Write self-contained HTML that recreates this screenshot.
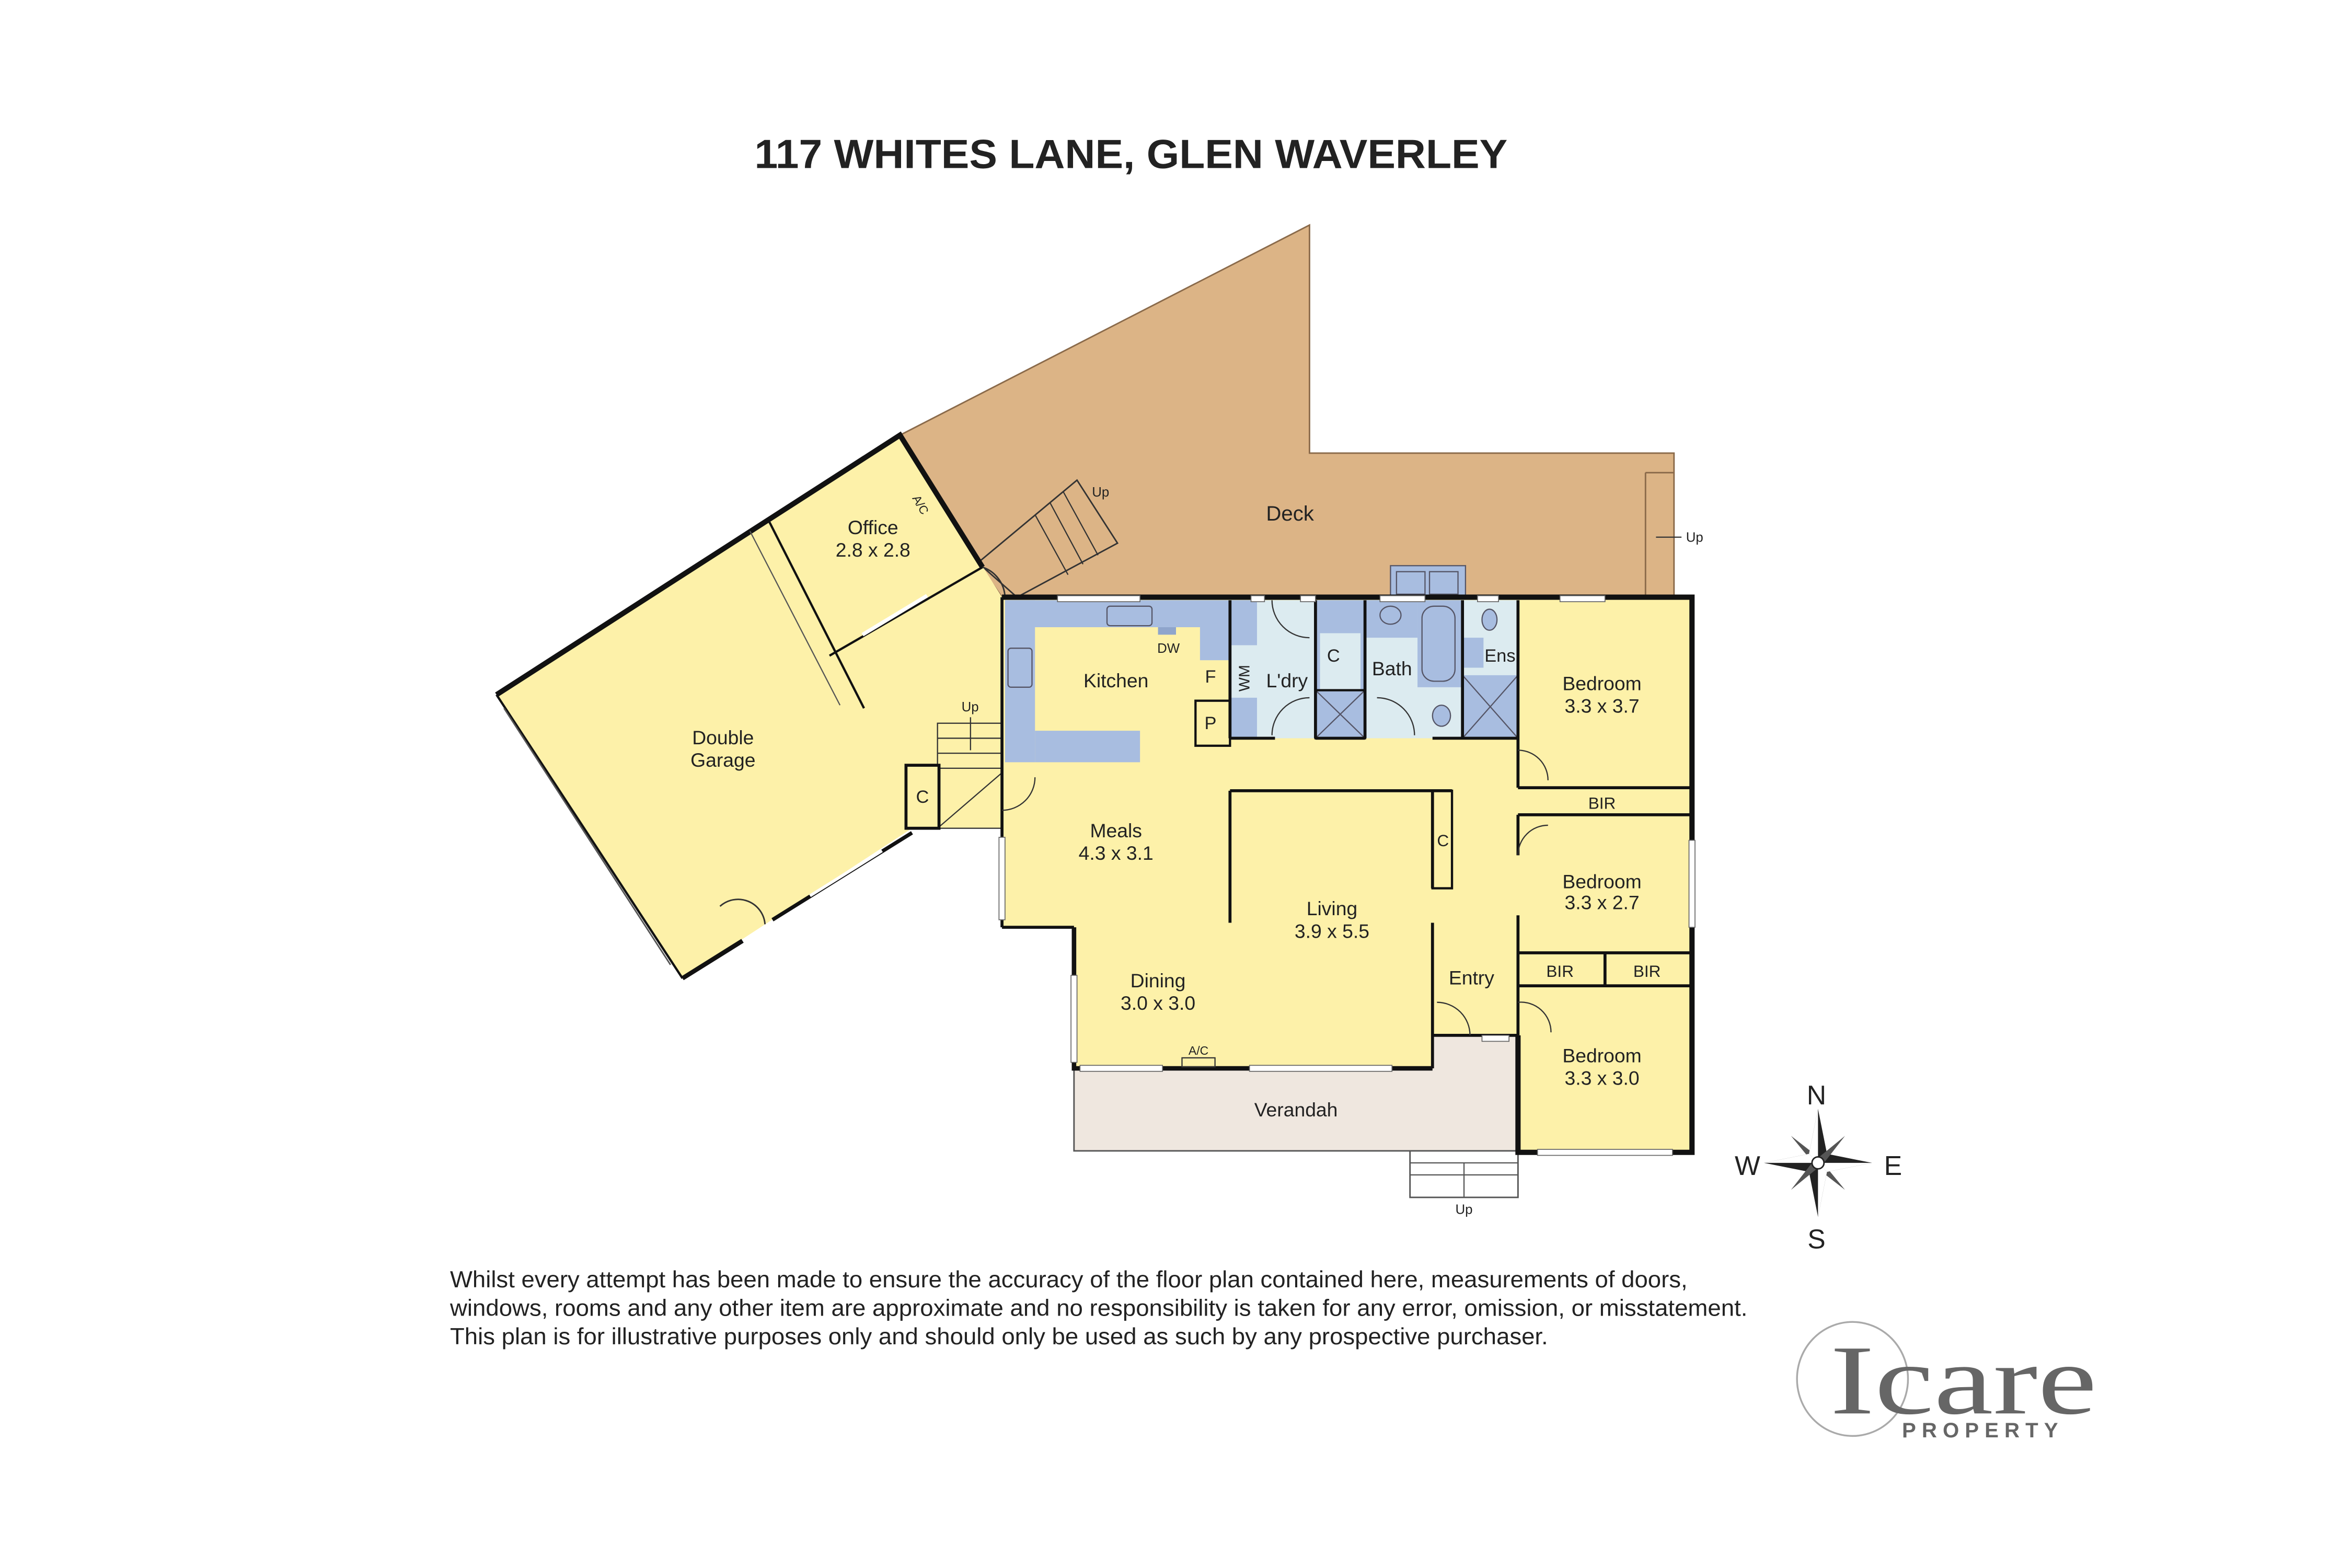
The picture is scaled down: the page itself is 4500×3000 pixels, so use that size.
<!DOCTYPE html>
<html><head><meta charset="utf-8"><style>
html,body{margin:0;padding:0;background:#fff;width:4500px;height:3000px;overflow:hidden}
svg{display:block}
text{font-family:"Liberation Sans",sans-serif;fill:#222}
</style></head><body>
<svg width="4500" height="3000" viewBox="0 0 1568 1045" preserveAspectRatio="none" xmlns="http://www.w3.org/2000/svg">
<rect width="1568" height="1045" fill="#fff"/>
<text x="754" y="112" font-size="27" font-weight="bold" text-anchor="middle" fill="#1a1a1a" textLength="502" lengthAdjust="spacingAndGlyphs">117 WHITES LANE, GLEN WAVERLEY</text>

<!-- Deck -->
<polygon points="600,290 873,150 873,302 1116,302 1116,398 668,398 652,375" fill="#dcb486" stroke="#8a6a4a" stroke-width="1"/>
<line x1="1097" y1="315" x2="1116" y2="315" stroke="#8a6a4a"/>
<line x1="1097" y1="315" x2="1097" y2="398" stroke="#8a6a4a"/>
<text x="1124" y="361" font-size="9">Up</text>
<line x1="1104" y1="358" x2="1121" y2="358" stroke="#333" stroke-width="0.8"/>
<polygon points="652,375 718,320 745,362 678,398" fill="none" stroke="#333" stroke-width="1"/>
<line x1="690" y1="343" x2="712" y2="383" stroke="#333" stroke-width="0.8"/>
<line x1="700" y1="335" x2="722" y2="376" stroke="#333" stroke-width="0.8"/>
<line x1="709" y1="328" x2="732" y2="370" stroke="#333" stroke-width="0.8"/>
<text x="728" y="331" font-size="9">Up</text>
<rect x="927" y="377" width="50" height="22" fill="#a8bde0" stroke="#556" stroke-width="0.8"/>
<rect x="931" y="381" width="19" height="15" fill="#a8bde0" stroke="#556" stroke-width="0.8"/>
<rect x="953" y="381" width="19" height="15" fill="#a8bde0" stroke="#556" stroke-width="0.8"/>

<!-- Garage + office -->
<polygon points="331,463 600,290 668,398 668,552 608,552 455,652" fill="#fdf1a9"/>
<polyline points="331,463 600,290 655,378" fill="none" stroke="#111" stroke-width="3.5"/>
<line x1="331" y1="463" x2="455" y2="652" stroke="#111" stroke-width="1.5"/>
<line x1="336" y1="472" x2="447" y2="643" stroke="#555" stroke-width="1"/>
<polyline points="455,652 495,627" fill="none" stroke="#111" stroke-width="3"/>
<line x1="515" y1="613" x2="608" y2="555" stroke="#111" stroke-width="2.5"/>
<line x1="540" y1="597" x2="588" y2="567" stroke="#fff" stroke-width="2"/>
<path d="M480,604 A18,18 0 0 1 510,616" fill="none" stroke="#333"/>
<line x1="513" y1="348" x2="576" y2="472" stroke="#111" stroke-width="1.5"/>
<line x1="500" y1="354" x2="560" y2="470" stroke="#555" stroke-width="0.8"/>
<line x1="553" y1="437" x2="655" y2="378" stroke="#111" stroke-width="1.5"/>
<line x1="575" y1="423" x2="618" y2="397" stroke="#fff" stroke-width="2.5"/>
<text x="608" y="332" font-size="8" transform="rotate(60 608 332)">A/C</text>
<text x="582" y="356" font-size="13" text-anchor="middle">Office</text>
<text x="582" y="371" font-size="13" text-anchor="middle">2.8 x 2.8</text>
<text x="482" y="496" font-size="13" text-anchor="middle">Double</text>
<text x="482" y="511" font-size="13" text-anchor="middle">Garage</text>
<path d="M655,378 A22,22 0 0 1 670,398" fill="none" stroke="#333"/>
<rect x="625" y="482" width="43" height="70" fill="none" stroke="#333" stroke-width="0.8"/>
<line x1="625" y1="492" x2="668" y2="492" stroke="#333" stroke-width="0.8"/>
<line x1="625" y1="502" x2="668" y2="502" stroke="#333" stroke-width="0.8"/>
<line x1="625" y1="512" x2="668" y2="512" stroke="#333" stroke-width="0.8"/>
<line x1="647" y1="478" x2="647" y2="500" stroke="#333" stroke-width="0.8"/>
<text x="641" y="474" font-size="9">Up</text>
<line x1="625" y1="552" x2="668" y2="515" stroke="#333" stroke-width="0.8"/>
<rect x="604" y="510" width="22" height="42" fill="#fdf1a9" stroke="#111" stroke-width="2"/>
<text x="615" y="535" font-size="12" text-anchor="middle">C</text>

<!-- Verandah -->
<rect x="716" y="712" width="296" height="55" fill="#efe7df" stroke="#555" stroke-width="1"/>
<rect x="955" y="690" width="57" height="24" fill="#efe7df"/>
<rect x="940" y="767" width="72" height="31" fill="#fff" stroke="#555" stroke-width="1"/>
<line x1="940" y1="775" x2="1012" y2="775" stroke="#555" stroke-width="0.8"/>
<line x1="940" y1="783" x2="1012" y2="783" stroke="#555" stroke-width="0.8"/>
<line x1="976" y1="775" x2="976" y2="798" stroke="#555" stroke-width="0.8"/>
<text x="976" y="809" font-size="9" text-anchor="middle">Up</text>
<text x="864" y="744" font-size="13" text-anchor="middle">Verandah</text>

<!-- Main house -->
<polygon points="668,398 1128,398 1128,768 1012,768 1012,690 955,690 955,712 716,712 716,618 668,618" fill="#fdf1a9"/>
<rect x="670" y="400" width="150" height="18" fill="#a8bde0"/>
<rect x="670" y="400" width="20" height="108" fill="#a8bde0"/>
<rect x="690" y="487" width="70" height="21" fill="#a8bde0"/>
<rect x="800" y="418" width="20" height="22" fill="#a8bde0"/>
<rect x="738" y="404" width="30" height="13" rx="2" fill="none" stroke="#556" stroke-width="0.8"/>
<rect x="672" y="432" width="16" height="26" rx="2" fill="none" stroke="#556" stroke-width="0.8"/>
<rect x="772" y="418" width="12" height="5" fill="#8fa5cc"/>
<text x="779" y="435" font-size="9" text-anchor="middle">DW</text>
<rect x="797" y="467" width="23" height="30" fill="none" stroke="#111" stroke-width="1.5"/>
<text x="807" y="455" font-size="12" text-anchor="middle">F</text>
<text x="807" y="486" font-size="12" text-anchor="middle">P</text>
<text x="744" y="458" font-size="13" text-anchor="middle">Kitchen</text>
<rect x="820" y="400" width="57" height="92" fill="#dcebf0"/>
<rect x="820" y="400" width="18" height="30" fill="#a8bde0"/>
<rect x="820" y="465" width="18" height="27" fill="#a8bde0"/>
<text x="833" y="452" font-size="10" text-anchor="middle" transform="rotate(-90 833 452)">WM</text>
<text x="858" y="458" font-size="13" text-anchor="middle">L'dry</text>
<rect x="877" y="400" width="33" height="92" fill="#a8bde0"/>
<rect x="880" y="422" width="27" height="38" fill="#dcebf0"/>
<text x="889" y="441" font-size="12" text-anchor="middle">C</text>
<line x1="877" y1="460" x2="910" y2="492" stroke="#556" stroke-width="0.8"/>
<line x1="910" y1="460" x2="877" y2="492" stroke="#556" stroke-width="0.8"/>
<rect x="877" y="460" width="33" height="32" fill="none" stroke="#111" stroke-width="1.5"/>
<rect x="910" y="400" width="65" height="92" fill="#dcebf0"/>
<rect x="910" y="400" width="35" height="25" fill="#a8bde0"/>
<rect x="945" y="400" width="30" height="58" fill="#a8bde0"/>
<rect x="948" y="404" width="22" height="50" rx="8" fill="none" stroke="#556" stroke-width="0.8"/>
<ellipse cx="927" cy="410" rx="7" ry="6" fill="none" stroke="#556" stroke-width="0.8"/>
<ellipse cx="961" cy="477" rx="6" ry="7" fill="#a8bde0" stroke="#556" stroke-width="0.8"/>
<text x="928" y="450" font-size="13" text-anchor="middle">Bath</text>
<rect x="975" y="400" width="37" height="92" fill="#dcebf0"/>
<ellipse cx="993" cy="413" rx="5" ry="7" fill="#a8bde0" stroke="#556" stroke-width="0.8"/>
<rect x="975" y="425" width="14" height="20" fill="#a8bde0"/>
<rect x="975" y="450" width="37" height="42" fill="#a8bde0"/>
<line x1="975" y1="450" x2="1012" y2="492" stroke="#556" stroke-width="0.8"/>
<line x1="1012" y1="450" x2="975" y2="492" stroke="#556" stroke-width="0.8"/>
<text x="1000" y="441" font-size="12" text-anchor="middle">Ens</text>
<g stroke="#111" stroke-width="2" fill="none">
<line x1="820" y1="400" x2="820" y2="492"/>
<line x1="820" y1="492" x2="850" y2="492"/>
<line x1="877" y1="400" x2="877" y2="492"/>
<line x1="910" y1="400" x2="910" y2="492"/>
<line x1="877" y1="492" x2="910" y2="492"/>
<line x1="975" y1="400" x2="975" y2="492"/>
<line x1="955" y1="492" x2="1012" y2="492"/>
<line x1="1012" y1="400" x2="1012" y2="525"/>
<line x1="1012" y1="525" x2="1128" y2="525"/>
<line x1="1012" y1="543" x2="1128" y2="543"/>
<line x1="1012" y1="543" x2="1012" y2="570"/>
<line x1="1012" y1="610" x2="1012" y2="690"/>
<line x1="1012" y1="635" x2="1128" y2="635"/>
<line x1="1012" y1="657" x2="1128" y2="657"/>
<line x1="1070" y1="635" x2="1070" y2="657"/>
<line x1="820" y1="527" x2="968" y2="527"/>
<line x1="820" y1="527" x2="820" y2="615"/>
<line x1="955" y1="527" x2="955" y2="592"/>
<line x1="955" y1="615" x2="955" y2="712"/>
<line x1="955" y1="690" x2="1012" y2="690"/>
<line x1="668" y1="398" x2="668" y2="618"/>
<line x1="668" y1="618" x2="716" y2="618"/>
</g>
<rect x="955" y="527" width="13" height="65" fill="none" stroke="#111" stroke-width="1.5"/>
<text x="962" y="564" font-size="11" text-anchor="middle">C</text>
<polyline points="668,398 1128,398 1128,768 1012,768 1012,690" fill="none" stroke="#111" stroke-width="3.5"/>
<polyline points="955,712 716,712 716,618" fill="none" stroke="#111" stroke-width="3"/>
<g fill="#fff" stroke="#666" stroke-width="0.6">
<rect x="705" y="397" width="55" height="4"/>
<rect x="834" y="397" width="9" height="4"/>
<rect x="867" y="397" width="10" height="4"/>
<rect x="920" y="397" width="30" height="4"/>
<rect x="985" y="397" width="14" height="4"/>
<rect x="1040" y="397" width="30" height="4"/>
<rect x="1126" y="560" width="4" height="58"/>
<rect x="1025" y="766" width="90" height="4"/>
<rect x="720" y="710" width="55" height="4"/>
<rect x="833" y="710" width="95" height="4"/>
<rect x="714" y="650" width="4" height="58"/>
<rect x="666" y="558" width="4" height="55"/>
<rect x="988" y="690" width="18" height="4"/>
</g>
<rect x="788" y="705" width="22" height="6" fill="none" stroke="#333" stroke-width="0.8"/>
<text x="799" y="703" font-size="8" text-anchor="middle">A/C</text>
<path d="M1012,500 A20,20 0 0 1 1032,520" fill="none" stroke="#333" stroke-width="0.8"/>
<path d="M1012,570 A20,20 0 0 1 1032,550" fill="none" stroke="#333" stroke-width="0.8"/>
<path d="M1012,668 A20,20 0 0 1 1034,688" fill="none" stroke="#333" stroke-width="0.8"/>
<path d="M958,668 A22,22 0 0 1 980,690" fill="none" stroke="#333" stroke-width="0.8"/>
<path d="M668,540 A22,22 0 0 0 690,518" fill="none" stroke="#333" stroke-width="0.8"/>
<path d="M848,400 A25,25 0 0 0 873,425" fill="none" stroke="#333" stroke-width="0.8"/>
<path d="M848,490 A25,25 0 0 1 873,465" fill="none" stroke="#333" stroke-width="0.8"/>
<path d="M918,465 A25,25 0 0 1 943,490" fill="none" stroke="#333" stroke-width="0.8"/>

<text x="744" y="558" font-size="13" text-anchor="middle">Meals</text>
<text x="744" y="573" font-size="13" text-anchor="middle">4.3 x 3.1</text>
<text x="888" y="610" font-size="13" text-anchor="middle">Living</text>
<text x="888" y="625" font-size="13" text-anchor="middle">3.9 x 5.5</text>
<text x="772" y="658" font-size="13" text-anchor="middle">Dining</text>
<text x="772" y="673" font-size="13" text-anchor="middle">3.0 x 3.0</text>
<text x="981" y="656" font-size="13" text-anchor="middle">Entry</text>
<text x="1068" y="460" font-size="13" text-anchor="middle">Bedroom</text>
<text x="1068" y="475" font-size="13" text-anchor="middle">3.3 x 3.7</text>
<text x="1068" y="539" font-size="11" text-anchor="middle">BIR</text>
<text x="1068" y="592" font-size="13" text-anchor="middle">Bedroom</text>
<text x="1068" y="606" font-size="13" text-anchor="middle">3.3 x 2.7</text>
<text x="1040" y="651" font-size="11" text-anchor="middle">BIR</text>
<text x="1098" y="651" font-size="11" text-anchor="middle">BIR</text>
<text x="1068" y="708" font-size="13" text-anchor="middle">Bedroom</text>
<text x="1068" y="723" font-size="13" text-anchor="middle">3.3 x 3.0</text>
<text x="860" y="347" font-size="14" text-anchor="middle">Deck</text>

<g transform="translate(1212,775)">
<polygon points="0,-36 6,-6 36,0 6,6 0,36 -6,6 -36,0 -6,-6" fill="#222"/>
<polygon points="18,-18 4,0 -18,18 -4,0" fill="#555"/>
<polygon points="-18,-18 0,-4 18,18 0,4" fill="#555"/>
<polygon points="0,-36 0,0 -6,-6" fill="#fff"/>
<polygon points="36,0 0,0 6,6" fill="#fff"/>
<polygon points="0,36 0,0 6,6" fill="#fff"/>
<polygon points="-36,0 0,0 -6,-6" fill="#fff"/>
<circle r="4" fill="#fff" stroke="#222"/>
</g>
<text x="1211" y="736" font-size="18" text-anchor="middle">N</text>
<text x="1211" y="832" font-size="18" text-anchor="middle">S</text>
<text x="1165" y="783" font-size="18" text-anchor="middle">W</text>
<text x="1262" y="783" font-size="18" text-anchor="middle">E</text>

<text x="300" y="858" font-size="15.5" textLength="825" lengthAdjust="spacingAndGlyphs">Whilst every attempt has been made to ensure the accuracy of the floor plan contained here, measurements of doors,</text>
<text x="300" y="877" font-size="15.5" textLength="865" lengthAdjust="spacingAndGlyphs">windows, rooms and any other item are approximate and no responsibility is taken for any error, omission, or misstatement.</text>
<text x="300" y="896" font-size="15.5" textLength="732" lengthAdjust="spacingAndGlyphs">This plan is for illustrative purposes only and should only be used as such by any prospective purchaser.</text>

<ellipse cx="1235" cy="919" rx="37" ry="38" fill="none" stroke="#aaa" stroke-width="1.2"/>
<text x="1220" y="942" font-size="66" style="fill:#666;font-family:'Liberation Serif',serif" textLength="178" lengthAdjust="spacingAndGlyphs">Icare</text>
<text x="1268" y="958" font-size="14" style="fill:#666" font-weight="bold" textLength="104" lengthAdjust="spacing">PROPERTY</text>
</svg>
</body></html>
